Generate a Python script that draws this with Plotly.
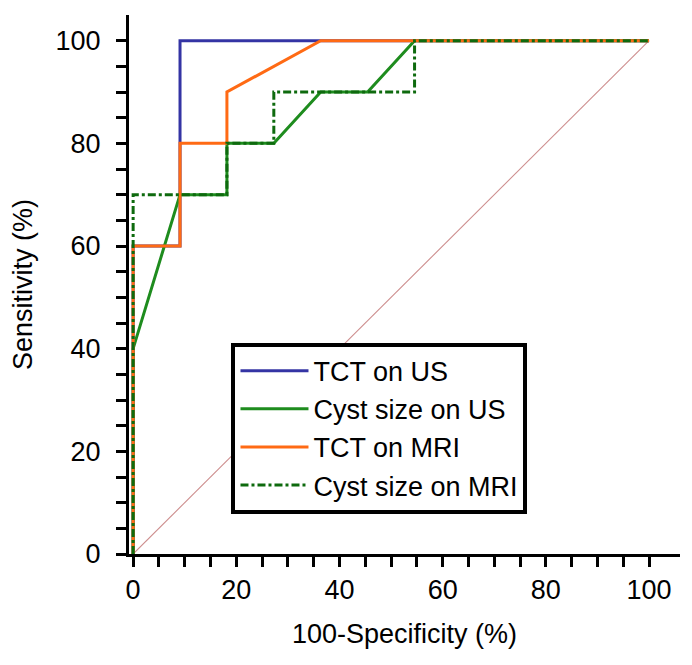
import plotly.graph_objects as go

# 100-Specificity (%) and Sensitivity (%) for each ROC curve
tct_us_x = [0, 0, 9.09, 9.09, 100]
tct_us_y = [0, 60, 60, 100, 100]

cyst_us_x = [0, 0, 9.09, 18.18, 18.18, 27.27, 36.36, 45.45, 54.55, 100]
cyst_us_y = [0, 40, 70, 70, 80, 80, 90, 90, 100, 100]

tct_mri_x = [0, 0, 9.09, 9.09, 18.18, 18.18, 36.36, 100]
tct_mri_y = [0, 60, 60, 80, 80, 90, 100, 100]

cyst_mri_x = [0, 0, 18.18, 18.18, 27.27, 27.27, 54.55, 54.55, 100]
cyst_mri_y = [0, 70, 70, 80, 80, 90, 90, 100, 100]

ref_x = [0, 100]
ref_y = [0, 100]

series_names = ["TCT on US", "Cyst size on US", "TCT on MRI", "Cyst size on MRI"]

tick_vals = list(range(0, 101, 5))
tick_text = [str(v) if v % 20 == 0 else "" for v in tick_vals]

FONT = "Liberation Sans, Arial, sans-serif"

fig = go.Figure()
fig.add_trace(go.Scatter(x=ref_x, y=ref_y, mode="lines", showlegend=False,
                         line=dict(color="#CD8E8E", width=1.1), hoverinfo="skip"))
fig.add_trace(go.Scatter(x=tct_us_x, y=tct_us_y, mode="lines", name=series_names[0],
                         line=dict(color="#3434A4", width=3)))
fig.add_trace(go.Scatter(x=cyst_us_x, y=cyst_us_y, mode="lines", name=series_names[1],
                         line=dict(color="#1E8C1E", width=3)))
fig.add_trace(go.Scatter(x=tct_mri_x, y=tct_mri_y, mode="lines", name=series_names[2],
                         line=dict(color="#FF6A14", width=3)))
fig.add_trace(go.Scatter(x=cyst_mri_x, y=cyst_mri_y, mode="lines", name=series_names[3],
                         line=dict(color="#0E6A0E", width=3, dash="8px,3px,3px,3px")))

axis_common = dict(
    showgrid=False, zeroline=False, showline=True, linecolor="black", linewidth=3,
    ticks="outside", ticklen=10, tickwidth=2.5, tickcolor="black",
    tickvals=tick_vals, ticktext=tick_text, automargin=False,
    tickfont=dict(family=FONT, size=27, color="black"),
)

fig.update_xaxes(range=[-0.8, 106], title=dict(text="100-Specificity (%)",
                 font=dict(family=FONT, size=27, color="black"), standoff=20),
                 ticklabelstandoff=0, **axis_common)
fig.update_yaxes(range=[0, 105], title=dict(text="Sensitivity (%)",
                 font=dict(family=FONT, size=27, color="black"), standoff=20),
                 ticklabelstandoff=10, **axis_common)

# page body adds an 8px offset, so the figure is sized to fit the 692x665 window
fig.update_layout(
    width=684, height=657,
    margin=dict(l=121, r=12, t=7, b=111),
    paper_bgcolor="white", plot_bgcolor="white",
    font=dict(family=FONT, size=27, color="black"),
    legend=dict(x=0.186, y=0.392, xanchor="left", yanchor="top",
                bgcolor="white", bordercolor="black", borderwidth=4,
                font=dict(family=FONT, size=27, color="black"),
                itemwidth=68, tracegroupgap=0),
)

fig.write_html("out.html")
